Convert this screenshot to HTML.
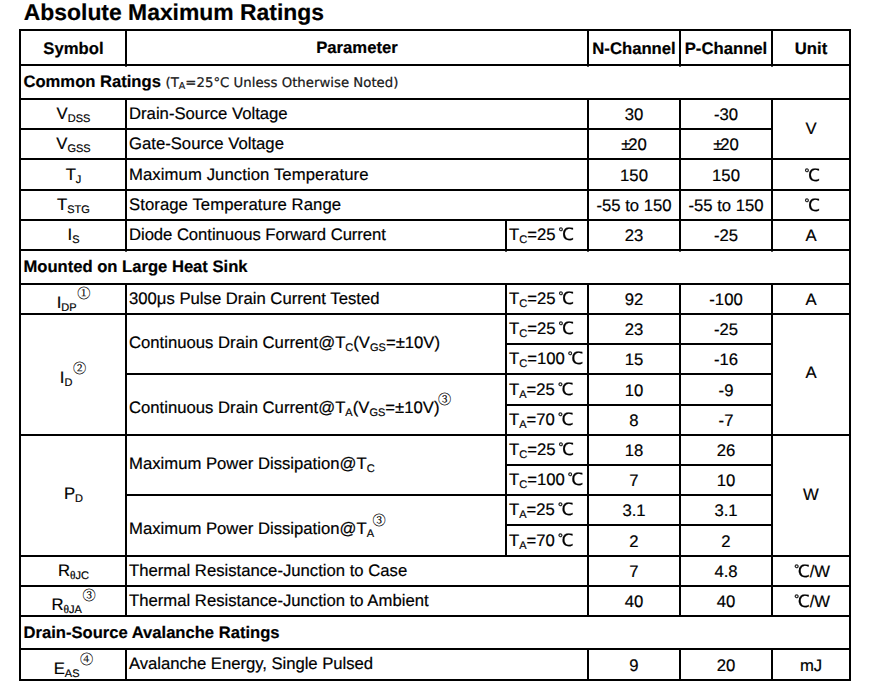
<!DOCTYPE html>
<html lang="en"><head><meta charset="utf-8"><title>Absolute Maximum Ratings</title>
<style>
html,body{margin:0;padding:0;background:#fff}
body{width:872px;height:690px;position:relative;overflow:hidden;font-family:"Liberation Sans","Noto Sans CJK SC",sans-serif;color:#000;font-size:16.7px;text-rendering:geometricPrecision;-webkit-text-stroke:0.2px #000}
.ln{position:absolute;background:#000}
.nib{position:absolute;width:2px;height:1px;background:#555}
.t{position:absolute;white-space:nowrap;box-sizing:border-box}
.c{text-align:center}
.p{text-align:left;padding-left:3px}
.s{text-align:left;padding-left:3.5px}
.s b{font-size:16.6px}
.b{font-weight:bold}
.u .dg{margin-left:0}
.pm{letter-spacing:-2px}
.th{font-family:"Liberation Serif",serif;font-size:11.5px;-webkit-text-stroke:0.2px #000}
.p .ci{margin-left:-1.5px;top:-9.5px}
.title{position:absolute;left:23.8px;top:-1px;font-weight:bold;font-size:22.9px;line-height:26px;white-space:nowrap}
sub{font-size:11px;vertical-align:baseline;position:relative;top:2.5px;line-height:0}
.note{font-family:"DejaVu Sans","Liberation Sans",sans-serif;font-size:13.3px;color:#222;margin-left:0px}
.note sub{font-size:9.5px;top:2px}
.ci{font-family:"Liberation Serif","Noto Serif CJK SC",serif;font-size:13.2px;color:#000;position:relative;top:-10px;margin-left:0.6px;line-height:0;-webkit-text-stroke:0.15px #000}
.dg{font-family:"Liberation Sans","WenQuanYi Zen Hei","Noto Sans CJK SC",sans-serif;font-size:17px;margin-left:2.8px;-webkit-text-stroke:0.25px #000}
</style></head>
<body>
<div class="ln" style="left:19px;top:29px;width:832px;height:2px"></div>
<div class="ln" style="left:19px;top:679px;width:832px;height:2px"></div>
<div class="ln" style="left:19px;top:29px;width:2px;height:652px"></div>
<div class="ln" style="left:849px;top:29px;width:2px;height:652px"></div>
<div class="ln" style="left:19px;top:64px;width:832px;height:2px"></div>
<div class="ln" style="left:19px;top:98px;width:832px;height:2px"></div>
<div class="ln" style="left:19px;top:249px;width:832px;height:2px"></div>
<div class="ln" style="left:19px;top:283px;width:832px;height:2px"></div>
<div class="ln" style="left:19px;top:313px;width:832px;height:2px"></div>
<div class="ln" style="left:19px;top:434px;width:832px;height:2px"></div>
<div class="ln" style="left:19px;top:555px;width:832px;height:2px"></div>
<div class="ln" style="left:19px;top:585px;width:832px;height:2px"></div>
<div class="ln" style="left:19px;top:615px;width:832px;height:2px"></div>
<div class="ln" style="left:19px;top:648px;width:832px;height:2px"></div>
<div class="ln" style="left:19px;top:128px;width:754px;height:2px"></div>
<div class="ln" style="left:19px;top:158px;width:832px;height:2px"></div>
<div class="ln" style="left:19px;top:189px;width:832px;height:2px"></div>
<div class="ln" style="left:19px;top:219px;width:832px;height:2px"></div>
<div class="ln" style="left:505px;top:343px;width:268px;height:2px"></div>
<div class="ln" style="left:505px;top:404px;width:268px;height:2px"></div>
<div class="ln" style="left:125px;top:373px;width:648px;height:2px"></div>
<div class="ln" style="left:505px;top:464px;width:268px;height:2px"></div>
<div class="ln" style="left:505px;top:524px;width:268px;height:2px"></div>
<div class="ln" style="left:125px;top:494px;width:648px;height:2px"></div>
<div class="ln" style="left:125px;top:29px;width:2px;height:37px"></div>
<div class="ln" style="left:587px;top:29px;width:2px;height:37px"></div>
<div class="ln" style="left:679px;top:29px;width:2px;height:37px"></div>
<div class="ln" style="left:771px;top:29px;width:2px;height:37px"></div>
<div class="ln" style="left:125px;top:98px;width:2px;height:153px"></div>
<div class="ln" style="left:587px;top:98px;width:2px;height:153px"></div>
<div class="ln" style="left:679px;top:98px;width:2px;height:153px"></div>
<div class="ln" style="left:771px;top:98px;width:2px;height:153px"></div>
<div class="ln" style="left:505px;top:219px;width:2px;height:32px"></div>
<div class="ln" style="left:125px;top:283px;width:2px;height:334px"></div>
<div class="ln" style="left:587px;top:283px;width:2px;height:334px"></div>
<div class="ln" style="left:679px;top:283px;width:2px;height:334px"></div>
<div class="ln" style="left:771px;top:283px;width:2px;height:334px"></div>
<div class="ln" style="left:505px;top:283px;width:2px;height:274px"></div>
<div class="ln" style="left:125px;top:648px;width:2px;height:33px"></div>
<div class="ln" style="left:587px;top:648px;width:2px;height:33px"></div>
<div class="ln" style="left:679px;top:648px;width:2px;height:33px"></div>
<div class="ln" style="left:771px;top:648px;width:2px;height:33px"></div>
<div class="nib" style="left:125px;top:66px"></div>
<div class="nib" style="left:587px;top:66px"></div>
<div class="nib" style="left:679px;top:66px"></div>
<div class="nib" style="left:771px;top:66px"></div>
<div class="nib" style="left:125px;top:251px"></div>
<div class="nib" style="left:505px;top:251px"></div>
<div class="nib" style="left:587px;top:251px"></div>
<div class="nib" style="left:679px;top:251px"></div>
<div class="nib" style="left:771px;top:251px"></div>
<div class="title">Absolute Maximum Ratings</div>
<div class="t c b" style="left:20.5px;top:31px;width:106px;height:35px;line-height:35px">Symbol</div>
<div class="t c b" style="left:126px;top:30px;width:462px;height:35px;line-height:35px">Parameter</div>
<div class="t c b" style="left:588px;top:31px;width:92px;height:35px;line-height:35px">N-Channel</div>
<div class="t c b" style="left:680px;top:31px;width:92px;height:35px;line-height:35px">P-Channel</div>
<div class="t c b" style="left:772px;top:31px;width:78px;height:35px;line-height:35px">Unit</div>
<div class="t s" style="left:20px;top:65px;width:830px;height:34px;line-height:34px"><b>Common Ratings</b> <span class="note">(T<sub>A</sub>=25°C Unless Otherwise Noted)</span></div>
<div class="t s" style="left:20px;top:250px;width:830px;height:34px;line-height:34px"><b>Mounted on Large Heat Sink</b></div>
<div class="t s" style="left:20px;top:616px;width:830px;height:33px;line-height:33px"><b>Drain-Source Avalanche Ratings</b></div>
<div class="t c" style="left:20.5px;top:99px;width:106px;height:30px;line-height:30px">V<sub>DSS</sub></div>
<div class="t p" style="left:126px;top:99px;width:462px;height:30px;line-height:30px">Drain-Source Voltage</div>
<div class="t c" style="left:588px;top:100px;width:92px;height:30px;line-height:30px">30</div>
<div class="t c" style="left:680px;top:100px;width:92px;height:30px;line-height:30px">-30</div>
<div class="t c" style="left:20.5px;top:129px;width:106px;height:30px;line-height:30px">V<sub>GSS</sub></div>
<div class="t p" style="left:126px;top:129px;width:462px;height:30px;line-height:30px">Gate-Source Voltage</div>
<div class="t c" style="left:588px;top:130px;width:92px;height:30px;line-height:30px"><span class="pm">±</span>20</div>
<div class="t c" style="left:680px;top:130px;width:92px;height:30px;line-height:30px"><span class="pm">±</span>20</div>
<div class="t c" style="left:20.5px;top:159px;width:106px;height:31px;line-height:31px">T<sub>J</sub></div>
<div class="t p" style="left:126px;top:159px;width:462px;height:31px;line-height:31px"><span style="letter-spacing:0.085px">Maximum Junction Temperature</span></div>
<div class="t c" style="left:588px;top:160px;width:92px;height:31px;line-height:31px">150</div>
<div class="t c" style="left:680px;top:160px;width:92px;height:31px;line-height:31px">150</div>
<div class="t c" style="left:20.5px;top:190px;width:106px;height:30px;line-height:30px">T<sub>STG</sub></div>
<div class="t p" style="left:126px;top:190px;width:462px;height:30px;line-height:30px"><span style="letter-spacing:0.075px">Storage Temperature Range</span></div>
<div class="t c" style="left:588px;top:191px;width:92px;height:30px;line-height:30px">-55 to 150</div>
<div class="t c" style="left:680px;top:191px;width:92px;height:30px;line-height:30px">-55 to 150</div>
<div class="t c" style="left:20.5px;top:220px;width:106px;height:30px;line-height:30px">I<sub>S</sub></div>
<div class="t p" style="left:126px;top:220px;width:380px;height:30px;line-height:30px"><span style="letter-spacing:-0.06px">Diode Continuous Forward Current</span></div>
<div class="t p" style="left:506px;top:220px;width:82px;height:30px;line-height:30px">T<sub>C</sub>=25<span class="dg">℃</span></div>
<div class="t c" style="left:588px;top:221px;width:92px;height:30px;line-height:30px">23</div>
<div class="t c" style="left:680px;top:221px;width:92px;height:30px;line-height:30px">-25</div>
<div class="t c" style="left:20.5px;top:288px;width:106px;height:30px;line-height:30px">I<sub>DP</sub><span class="ci">①</span></div>
<div class="t p" style="left:126px;top:284px;width:380px;height:30px;line-height:30px">300μs Pulse Drain Current Tested</div>
<div class="t p" style="left:506px;top:284px;width:82px;height:30px;line-height:30px">T<sub>C</sub>=25<span class="dg">℃</span></div>
<div class="t c" style="left:588px;top:285px;width:92px;height:30px;line-height:30px">92</div>
<div class="t c" style="left:680px;top:285px;width:92px;height:30px;line-height:30px">-100</div>
<div class="t p" style="left:506px;top:314px;width:82px;height:30px;line-height:30px">T<sub>C</sub>=25<span class="dg">℃</span></div>
<div class="t c" style="left:588px;top:315px;width:92px;height:30px;line-height:30px">23</div>
<div class="t c" style="left:680px;top:315px;width:92px;height:30px;line-height:30px">-25</div>
<div class="t p" style="left:506px;top:344px;width:82px;height:30px;line-height:30px">T<sub>C</sub>=100<span class="dg">℃</span></div>
<div class="t c" style="left:588px;top:345px;width:92px;height:30px;line-height:30px">15</div>
<div class="t c" style="left:680px;top:345px;width:92px;height:30px;line-height:30px">-16</div>
<div class="t p" style="left:506px;top:374px;width:82px;height:31px;line-height:31px">T<sub>A</sub>=25<span class="dg">℃</span></div>
<div class="t c" style="left:588px;top:375px;width:92px;height:31px;line-height:31px">10</div>
<div class="t c" style="left:680px;top:375px;width:92px;height:31px;line-height:31px">-9</div>
<div class="t p" style="left:506px;top:405px;width:82px;height:30px;line-height:30px">T<sub>A</sub>=70<span class="dg">℃</span></div>
<div class="t c" style="left:588px;top:406px;width:92px;height:30px;line-height:30px">8</div>
<div class="t c" style="left:680px;top:406px;width:92px;height:30px;line-height:30px">-7</div>
<div class="t p" style="left:506px;top:435px;width:82px;height:30px;line-height:30px">T<sub>C</sub>=25<span class="dg">℃</span></div>
<div class="t c" style="left:588px;top:436px;width:92px;height:30px;line-height:30px">18</div>
<div class="t c" style="left:680px;top:436px;width:92px;height:30px;line-height:30px">26</div>
<div class="t p" style="left:506px;top:465px;width:82px;height:30px;line-height:30px">T<sub>C</sub>=100<span class="dg">℃</span></div>
<div class="t c" style="left:588px;top:466px;width:92px;height:30px;line-height:30px">7</div>
<div class="t c" style="left:680px;top:466px;width:92px;height:30px;line-height:30px">10</div>
<div class="t p" style="left:506px;top:495px;width:82px;height:30px;line-height:30px">T<sub>A</sub>=25<span class="dg">℃</span></div>
<div class="t c" style="left:588px;top:496px;width:92px;height:30px;line-height:30px">3.1</div>
<div class="t c" style="left:680px;top:496px;width:92px;height:30px;line-height:30px">3.1</div>
<div class="t p" style="left:506px;top:525px;width:82px;height:31px;line-height:31px">T<sub>A</sub>=70<span class="dg">℃</span></div>
<div class="t c" style="left:588px;top:526px;width:92px;height:31px;line-height:31px">2</div>
<div class="t c" style="left:680px;top:526px;width:92px;height:31px;line-height:31px">2</div>
<div class="t c" style="left:20.5px;top:556px;width:106px;height:30px;line-height:30px">R<sub><span class="th">θ</span>JC</sub></div>
<div class="t p" style="left:126px;top:556px;width:462px;height:30px;line-height:30px">Thermal Resistance-Junction to Case</div>
<div class="t c" style="left:588px;top:557px;width:92px;height:30px;line-height:30px">7</div>
<div class="t c" style="left:680px;top:557px;width:92px;height:30px;line-height:30px">4.8</div>
<div class="t c" style="left:20.5px;top:590px;width:106px;height:30px;line-height:30px">R<sub><span class="th">θ</span>JA</sub><span class="ci">③</span></div>
<div class="t p" style="left:126px;top:586px;width:462px;height:30px;line-height:30px">Thermal Resistance-Junction to Ambient</div>
<div class="t c" style="left:588px;top:587px;width:92px;height:30px;line-height:30px">40</div>
<div class="t c" style="left:680px;top:587px;width:92px;height:30px;line-height:30px">40</div>
<div class="t c" style="left:20.5px;top:653px;width:106px;height:31px;line-height:31px">E<sub>AS</sub><span class="ci">④</span></div>
<div class="t p" style="left:126px;top:648px;width:462px;height:31px;line-height:31px"><span style="letter-spacing:-0.04px">Avalanche Energy, Single Pulsed</span></div>
<div class="t c" style="left:588px;top:650px;width:92px;height:31px;line-height:31px">9</div>
<div class="t c" style="left:680px;top:650px;width:92px;height:31px;line-height:31px">20</div>
<div class="t c" style="left:20px;top:317px;width:106px;height:121px;line-height:121px">I<sub>D</sub><span class="ci">②</span></div>
<div class="t c" style="left:20.5px;top:433px;width:106px;height:121px;line-height:121px">P<sub>D</sub></div>
<div class="t p" style="left:126px;top:313px;width:380px;height:60px;line-height:60px">Continuous Drain Current@T<sub>C</sub>(V<sub>GS</sub>=±10V)</div>
<div class="t p" style="left:126px;top:377px;width:380px;height:61px;line-height:61px">Continuous Drain Current@T<sub>A</sub>(V<sub>GS</sub>=±10V)<span class="ci">③</span></div>
<div class="t p" style="left:126px;top:434px;width:380px;height:60px;line-height:60px">Maximum Power Dissipation@T<sub>C</sub></div>
<div class="t p" style="left:126px;top:498px;width:380px;height:61px;line-height:61px">Maximum Power Dissipation@T<sub>A</sub><span class="ci">③</span></div>
<div class="t c" style="left:772px;top:99px;width:78px;height:60px;line-height:60px">V</div>
<div class="t c u" style="left:773px;top:160px;width:78px;height:31px;line-height:31px"><span class="dg">℃</span></div>
<div class="t c u" style="left:773px;top:191px;width:78px;height:30px;line-height:30px"><span class="dg">℃</span></div>
<div class="t c" style="left:772px;top:221px;width:78px;height:30px;line-height:30px">A</div>
<div class="t c" style="left:772px;top:285px;width:78px;height:30px;line-height:30px">A</div>
<div class="t c" style="left:772px;top:312px;width:78px;height:121px;line-height:121px">A</div>
<div class="t c" style="left:772px;top:434px;width:78px;height:121px;line-height:121px">W</div>
<div class="t c u" style="left:773px;top:557px;width:78px;height:30px;line-height:30px"><span class="dg">℃</span>/W</div>
<div class="t c u" style="left:773px;top:587px;width:78px;height:30px;line-height:30px"><span class="dg">℃</span>/W</div>
<div class="t c" style="left:772px;top:650px;width:78px;height:31px;line-height:31px">mJ</div>
</body></html>
